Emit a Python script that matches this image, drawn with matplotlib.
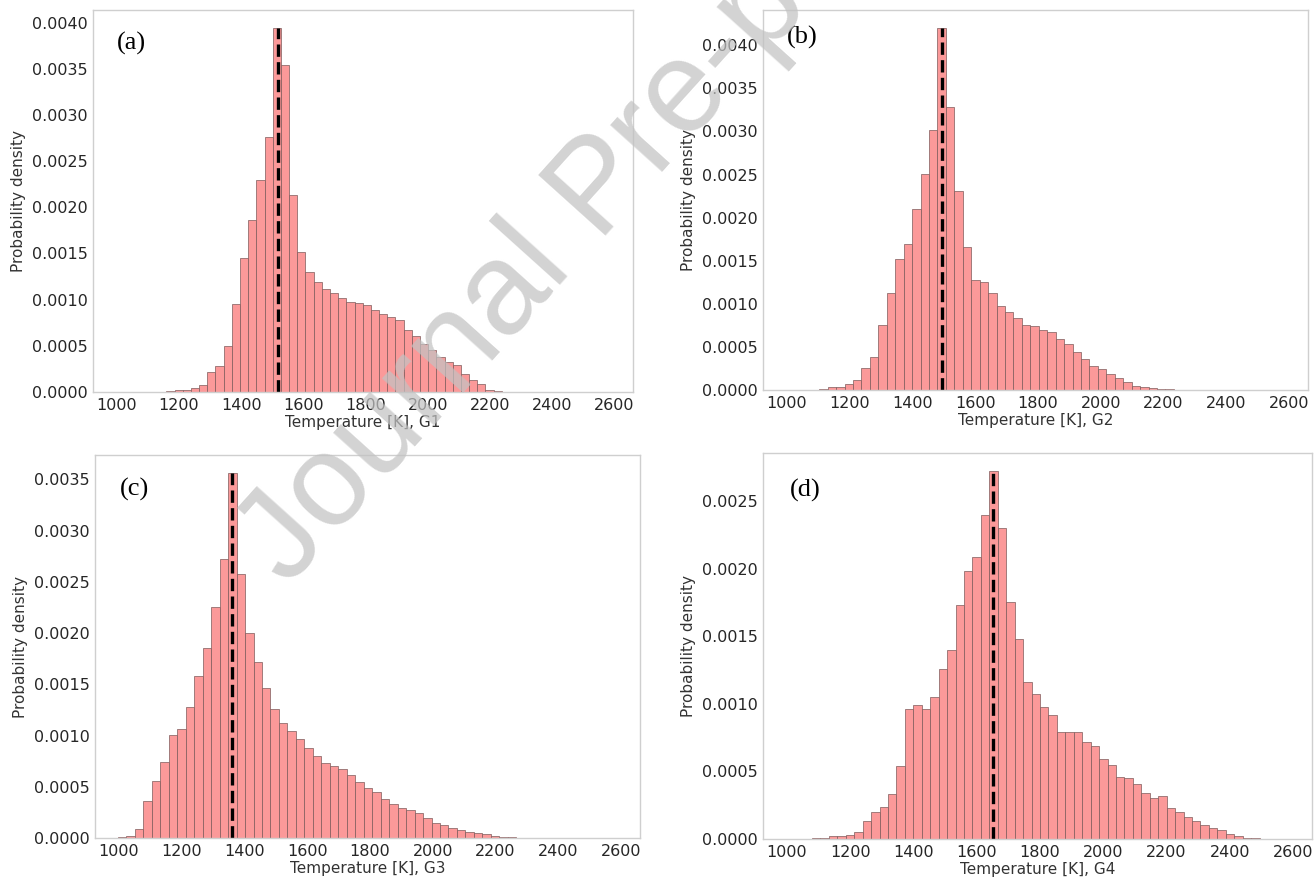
import numpy as np
import matplotlib.pyplot as plt

# DATA ----------------------------------------------------------------------

PANELS = ["(a)", "(b)", "(c)", "(d)"]
XLABELS = ["Temperature [K], G1", "Temperature [K], G2",
           "Temperature [K], G3", "Temperature [K], G4"]

# first bin edge and bin width [K] of each histogram
BIN_START = [1160, 1103, 997, 1079]
BIN_WIDTH = [26.3, 26.9, 27.0, 26.7]

# probability density per bin
dens_g1 = [0.00001, 0.00002, 0.00002, 0.00004, 0.00008, 0.00022, 0.00028, 0.0005,
           0.00095, 0.00145, 0.00186, 0.0023, 0.00276, 0.00394, 0.00354, 0.00213,
           0.00152, 0.0013, 0.00119, 0.00112, 0.00107, 0.00102, 0.00097, 0.00096,
           0.00094, 0.00089, 0.00085, 0.00081, 0.00078, 0.00067, 0.00061, 0.00052,
           0.00045, 0.00038, 0.00032, 0.00029, 0.0002, 0.00013, 0.00009, 0.00002,
           0.00001]
dens_g2 = [0.00001, 0.00003, 0.00004, 0.00007, 0.00012, 0.00025, 0.00038, 0.00075,
           0.00112, 0.00152, 0.00169, 0.0021, 0.00251, 0.00302, 0.0042, 0.00328,
           0.00231, 0.00166, 0.00128, 0.00125, 0.00112, 0.00098, 0.0009, 0.00084,
           0.00075, 0.00074, 0.0007, 0.00067, 0.00059, 0.00053, 0.00044, 0.00036,
           0.00028, 0.00024, 0.00019, 0.00014, 0.00009, 0.00005, 0.00003, 0.00002,
           0.00001, 0.00001]
dens_g3 = [0.00001, 0.00002, 0.00009, 0.00036, 0.00056, 0.00074, 0.00101, 0.00106,
           0.00128, 0.00158, 0.00185, 0.00225, 0.00272, 0.00356, 0.00258, 0.002,
           0.00172, 0.00146, 0.00126, 0.00112, 0.00104, 0.00097, 0.00088, 0.0008,
           0.00073, 0.0007, 0.00067, 0.00061, 0.00055, 0.00049, 0.00045, 0.00038,
           0.00033, 0.00029, 0.00027, 0.00024, 0.0002, 0.00015, 0.00013, 0.0001,
           0.00008, 0.00006, 0.00005, 0.00004, 0.00002, 0.00001, 0.00001]
dens_g4 = [0.00001, 0.00001, 0.00002, 0.00002, 0.00003, 0.00005, 0.00013, 0.0002,
           0.00024, 0.00033, 0.00054, 0.00096, 0.00099, 0.00096, 0.00105, 0.00126,
           0.0014, 0.00173, 0.00198, 0.00209, 0.0024, 0.00272, 0.0023, 0.00175,
           0.00148, 0.00116, 0.00107, 0.00098, 0.00092, 0.00079, 0.00079, 0.00079,
           0.00072, 0.00069, 0.00059, 0.00055, 0.00046, 0.00045, 0.00041, 0.00034,
           0.0003, 0.00032, 0.00023, 0.0002, 0.00016, 0.00013, 0.0001, 0.00008,
           0.00007, 0.00004, 0.00002, 0.00001, 0.00001]
DENSITIES = [dens_g1, dens_g2, dens_g3, dens_g4]

# most probable temperature (dashed line)
T_PEAK = [1518, 1493, 1361, 1651]

XTICKS = [1000, 1200, 1400, 1600, 1800, 2000, 2200, 2400, 2600]

# PLOT ----------------------------------------------------------------------

W, H = 1315, 881
fig = plt.figure(figsize=(W / 100, H / 100), dpi=100)

# axes boxes in pixels: left, top, right, bottom
boxes = [(93, 10, 633, 392), (763, 10, 1308, 390),
         (95, 455, 640, 838), (763, 453, 1312, 839)]
label_pos = [(0.072, 0.912), (0.072, 0.929), (0.072, 0.911), (0.077, 0.904)]

for i in range(4):
    l, t, r, b = boxes[i]
    ax = fig.add_axes([l / W, (H - b) / H, (r - l) / W, (b - t) / H])

    dens = np.array(DENSITIES[i])
    edges = BIN_START[i] + BIN_WIDTH[i] * np.arange(len(dens) + 1)
    centers = 0.5 * (edges[:-1] + edges[1:])
    ax.hist(centers, bins=edges, weights=dens, color='#fb9999',
            edgecolor='#7d5a5a', linewidth=0.5)
    ax.vlines(T_PEAK[i], 0, dens.max(), colors='black', linestyles='--',
              linewidth=2.4)

    ax.set_xlim(924, 2660)
    ax.set_xticks(XTICKS)
    ax.set_xlabel(XLABELS[i], fontsize=11, color='#333333', labelpad=2)
    ax.set_ylabel('Probability density', fontsize=11, color='#333333')
    ax.yaxis.set_major_formatter(plt.FormatStrFormatter('%.4f'))
    ax.tick_params(length=0, pad=4, labelsize=11.5, labelcolor='#262626')
    for s in ax.spines.values():
        s.set_color('#cfcfcf')
        s.set_linewidth(1.0)
    ax.text(label_pos[i][0], label_pos[i][1], PANELS[i], transform=ax.transAxes,
            ha='center', va='center', fontsize=19, family='Liberation Serif')

# watermark
fig.text(288 / W, 1 - 588 / H, 'Journal Pre-proof', rotation=48,
         rotation_mode='anchor', ha='left', va='baseline', fontsize=94,
         family='Liberation Sans', color='#c2c2c2', alpha=0.72, zorder=10)

fig.savefig('out.png', dpi=100)
